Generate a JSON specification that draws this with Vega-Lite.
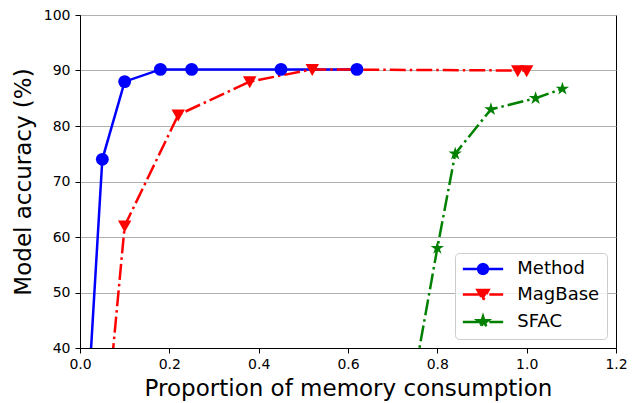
{
  "$schema": "https://vega.github.io/schema/vega-lite/v6.json",
  "width": 536,
  "height": 333,
  "autosize": {"type": "none"},
  "padding": {"left": 80, "top": 15, "right": 20, "bottom": 55},
  "background": "white",
  "data": {
    "values": [
      {"series": "Method", "mem": 0.01, "acc": 20},
      {"series": "Method", "mem": 0.05, "acc": 74},
      {"series": "Method", "mem": 0.10, "acc": 88},
      {"series": "Method", "mem": 0.18, "acc": 90.2},
      {"series": "Method", "mem": 0.25, "acc": 90.2},
      {"series": "Method", "mem": 0.45, "acc": 90.2},
      {"series": "Method", "mem": 0.62, "acc": 90.2},
      {"series": "MagBase", "mem": 0.05, "acc": 19},
      {"series": "MagBase", "mem": 0.10, "acc": 62},
      {"series": "MagBase", "mem": 0.22, "acc": 82},
      {"series": "MagBase", "mem": 0.38, "acc": 88},
      {"series": "MagBase", "mem": 0.52, "acc": 90.2},
      {"series": "MagBase", "mem": 0.98, "acc": 90},
      {"series": "MagBase", "mem": 1.00, "acc": 90},
      {"series": "SFAC", "mem": 0.70, "acc": 13},
      {"series": "SFAC", "mem": 0.80, "acc": 58},
      {"series": "SFAC", "mem": 0.84, "acc": 75},
      {"series": "SFAC", "mem": 0.92, "acc": 83},
      {"series": "SFAC", "mem": 1.02, "acc": 85},
      {"series": "SFAC", "mem": 1.08, "acc": 86.7}
    ]
  },
  "encoding": {
    "x": {
      "field": "mem", "type": "quantitative",
      "scale": {"domain": [0, 1.2], "nice": false, "zero": false},
      "axis": {"title": "Proportion of memory consumption", "values": [0, 0.2, 0.4, 0.6, 0.8, 1.0, 1.2], "format": ".1f", "grid": false, "labelFlush": false, "labelOverlap": false, "labelPadding": 4, "titlePadding": 6}
    },
    "y": {
      "field": "acc", "type": "quantitative",
      "scale": {"domain": [40, 100], "nice": false, "zero": false},
      "axis": {"title": "Model accuracy (%)", "values": [40, 50, 60, 70, 80, 90, 100], "grid": true, "titlePadding": 8}
    }
  },
  "layer": [
    {
      "transform": [{"filter": "datum.series === 'Method'"}],
      "mark": {"type": "line", "clip": true, "strokeWidth": 2.5},
      "encoding": {
        "color": {
          "field": "series", "type": "nominal",
          "scale": {"domain": ["Method", "MagBase", "SFAC"], "range": ["#0000ff", "#ff0000", "#008000"]},
          "legend": {
            "title": null,
            "orient": "bottom-right",
            "offset": 9,
            "fillColor": "rgba(255,255,255,0.8)",
            "strokeColor": "#cccccc",
            "cornerRadius": 4,
            "padding": 7,
            "labelFontSize": 18,
            "labelColor": "black",
            "labelOffset": 25.3,
            "symbolOffset": 12,
            "rowPadding": 5.5,
            "symbolSize": 196,
            "symbolStrokeWidth": 2.5,
            "encode": {
              "symbols": {
                "update": {
                  "shape": {"signal": "datum.value === 'Method' ? 'M-2.88,0L2.88,0M-0.7,0A0.7,0.7 0 1,0 0.7,0A0.7,0.7 0 1,0 -0.7,0Z' : datum.value === 'MagBase' ? 'M-2.88,0L2.88,0M-0.8,-0.66L0.8,-0.66L0,0.8Z' : 'M-2.88,0L2.88,0M0,-0.8L0.18,-0.247L0.761,-0.247L0.29,0.094L0.47,0.647L0,0.306L-0.47,0.647L-0.29,0.094L-0.761,-0.247L-0.18,-0.247Z'"},
                  "fill": {"signal": "datum.value === 'Method' ? '#0000ff' : datum.value === 'MagBase' ? '#ff0000' : '#008000'"},
                  "stroke": {"signal": "datum.value === 'Method' ? '#0000ff' : datum.value === 'MagBase' ? '#ff0000' : '#008000'"},
                  "strokeDash": {"signal": "datum.value === 'Method' ? [1, 0] : [16, 4, 2.5, 4]"},
                  "strokeWidth": {"value": 2.5},
                  "opacity": {"value": 1},
                  "fillOpacity": {"value": 1},
                  "strokeOpacity": {"value": 1},
                  "size": {"value": 196}
                }
              }
            }
          }
        }
      }
    },
    {
      "transform": [{"filter": "datum.series === 'MagBase'"}],
      "mark": {"type": "line", "clip": true, "strokeWidth": 2.5, "strokeDash": [16, 4, 2.5, 4]},
      "encoding": {"color": {"field": "series", "type": "nominal"}}
    },
    {
      "transform": [{"filter": "datum.series === 'SFAC'"}],
      "mark": {"type": "line", "clip": true, "strokeWidth": 2.5, "strokeDash": [16, 4, 2.5, 4]},
      "encoding": {"color": {"field": "series", "type": "nominal"}}
    },
    {
      "transform": [{"filter": "datum.series === 'Method' && datum.acc >= 40"}],
      "mark": {"type": "point", "filled": true, "opacity": 1, "size": 165, "strokeWidth": 0, "shape": "circle", "color": "#0000ff"},
      "encoding": {}
    },
    {
      "transform": [{"filter": "datum.series === 'MagBase' && datum.acc >= 40"}],
      "mark": {"type": "point", "filled": true, "opacity": 1, "size": 180, "strokeWidth": 0, "shape": "M-1,-0.8L1,-0.8L0,1Z", "color": "#ff0000"},
      "encoding": {}
    },
    {
      "transform": [{"filter": "datum.series === 'SFAC' && datum.acc >= 40"}],
      "mark": {"type": "point", "filled": true, "opacity": 1, "size": 200, "strokeWidth": 0, "shape": "M0,-1L0.2245,-0.309L0.951,-0.309L0.363,0.118L0.588,0.809L0,0.382L-0.588,0.809L-0.363,0.118L-0.951,-0.309L-0.2245,-0.309Z", "color": "#008000"},
      "encoding": {}
    }
  ],
  "config": {
    "font": "DejaVu Sans",
    "view": {"stroke": "black", "strokeWidth": 1},
    "axis": {
      "domainColor": "black",
      "tickColor": "black",
      "labelColor": "black",
      "titleColor": "black",
      "labelFontSize": 14,
      "titleFontSize": 23,
      "titleFontWeight": "normal",
      "tickSize": 5,
      "labelPadding": 5,
      "gridColor": "#b0b0b0",
      "gridWidth": 1
    }
  }
}
